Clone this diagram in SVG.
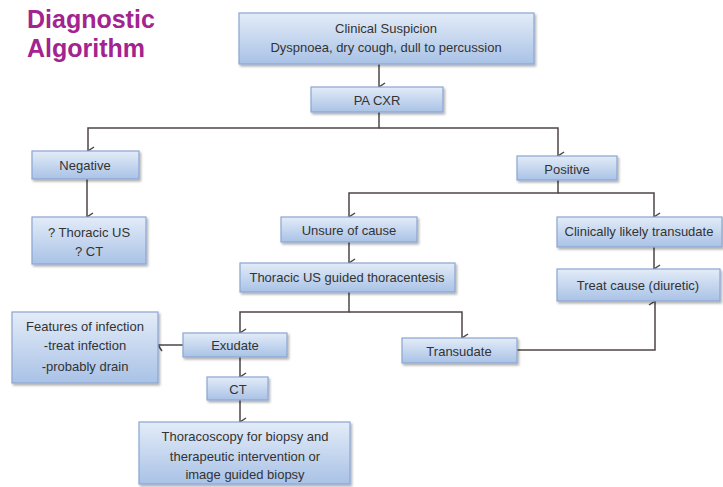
<svg xmlns="http://www.w3.org/2000/svg" width="723" height="487" viewBox="0 0 723 487">
<style>
.box{fill:url(#g);stroke:#8aa6d2;stroke-width:1.2;filter:url(#sh)}
.t{font-family:"Liberation Sans",Arial,sans-serif;font-size:13px;fill:#333;text-anchor:middle;dominant-baseline:central}
.c{fill:none;stroke:#4d4545;stroke-width:1.5}
.title{font-family:"Liberation Sans",Arial,sans-serif;font-size:25px;font-weight:bold;fill:#a3238f}
</style>
<defs>
<linearGradient id="g" x1="0" y1="0" x2="0" y2="1">
<stop offset="0" stop-color="#e3ecf8"/>
<stop offset="1" stop-color="#a9c2e6"/>
</linearGradient>
<filter id="sh" x="-10%" y="-20%" width="130%" height="160%">
<feDropShadow dx="1.5" dy="2" stdDeviation="1.2" flood-color="#000" flood-opacity="0.3"/>
</filter>
<marker id="a" markerWidth="10" markerHeight="10" refX="5" refY="8" orient="auto-start-reverse" markerUnits="userSpaceOnUse" viewBox="0 0 10 10">
<path d="M1,2 L5,8 L9,2" fill="none" stroke="#4d4545" stroke-width="1.5"/>
</marker>
</defs>
<rect width="723" height="487" fill="#fff"/>
<text class="title" x="27" y="28">Diagnostic</text>
<text class="title" x="27" y="57">Algorithm</text>

<g id="connectors">
<path class="c" d="M379,64 V87" marker-end="url(#a)"/>
<path class="c" d="M379,112 V128 H88 V151" marker-end="url(#a)"/>
<path class="c" d="M379,128 H558 V156" marker-end="url(#a)"/>
<path class="c" d="M87,179 V217" marker-end="url(#a)"/>
<path class="c" d="M558,180 V193 H349 V217" marker-end="url(#a)"/>
<path class="c" d="M558,193 H654 V217" marker-end="url(#a)"/>
<path class="c" d="M654,247 V269" marker-end="url(#a)"/>
<path class="c" d="M349,242 V263" marker-end="url(#a)"/>
<path class="c" d="M349,292 V312 H240 V333" marker-end="url(#a)"/>
<path class="c" d="M349,312 H462 V338" marker-end="url(#a)"/>
<path class="c" d="M183,345 H158" marker-end="url(#a)"/>
<path class="c" d="M240,357 V377" marker-end="url(#a)"/>
<path class="c" d="M240,400 V422" marker-end="url(#a)"/>
<path class="c" d="M517,350 H655 V301" marker-end="url(#a)"/>
</g>

<g id="clinical">
<rect class="box" x="239" y="13" width="295" height="51"/>
<text class="t" x="386" y="28">Clinical Suspicion</text>
<text class="t" x="386" y="47">Dyspnoea, dry cough, dull to percussion</text>
</g>
<g id="pacxr">
<rect class="box" x="311" y="87" width="132" height="25"/>
<text class="t" x="377" y="100">PA CXR</text>
</g>
<g id="negative">
<rect class="box" x="32" y="151" width="107" height="28"/>
<text class="t" x="85" y="165">Negative</text>
</g>
<g id="thoracicus">
<rect class="box" x="32" y="217" width="114" height="47"/>
<text class="t" x="89" y="232">? Thoracic US</text>
<text class="t" x="89" y="251">? CT</text>
</g>
<g id="positive">
<rect class="box" x="517" y="156" width="100" height="24"/>
<text class="t" x="567" y="169">Positive</text>
</g>
<g id="unsure">
<rect class="box" x="281" y="217" width="136" height="25"/>
<text class="t" x="349" y="230">Unsure of cause</text>
</g>
<g id="clinicallylikely">
<rect class="box" x="557" y="217" width="165" height="30"/>
<text class="t" x="639" y="231">Clinically  likely transudate</text>
</g>
<g id="treatcause">
<rect class="box" x="557" y="269" width="163" height="32"/>
<text class="t" x="638" y="285">Treat cause (diuretic)</text>
</g>
<g id="thoracentesis">
<rect class="box" x="240" y="263" width="215" height="29"/>
<text class="t" x="347" y="277">Thoracic US guided thoracentesis</text>
</g>
<g id="features">
<rect class="box" x="12" y="312" width="146" height="71"/>
<text class="t" x="85" y="326">Features of infection</text>
<text class="t" x="85" y="345">-treat infection</text>
<text class="t" x="85" y="366">-probably drain</text>
</g>
<g id="exudate">
<rect class="box" x="183" y="333" width="104" height="24"/>
<text class="t" x="235" y="345">Exudate</text>
</g>
<g id="transudate">
<rect class="box" x="402" y="338" width="115" height="25"/>
<text class="t" x="459" y="351">Transudate</text>
</g>
<g id="ct">
<rect class="box" x="207" y="377" width="61" height="23"/>
<text class="t" x="238" y="389">CT</text>
</g>
<g id="thoracoscopy">
<rect class="box" x="139" y="422" width="211" height="62"/>
<text class="t" x="245" y="436">Thoracoscopy for biopsy and</text>
<text class="t" x="245" y="456">therapeutic intervention or</text>
<text class="t" x="245" y="474">image guided biopsy</text>
</g>
</svg>
